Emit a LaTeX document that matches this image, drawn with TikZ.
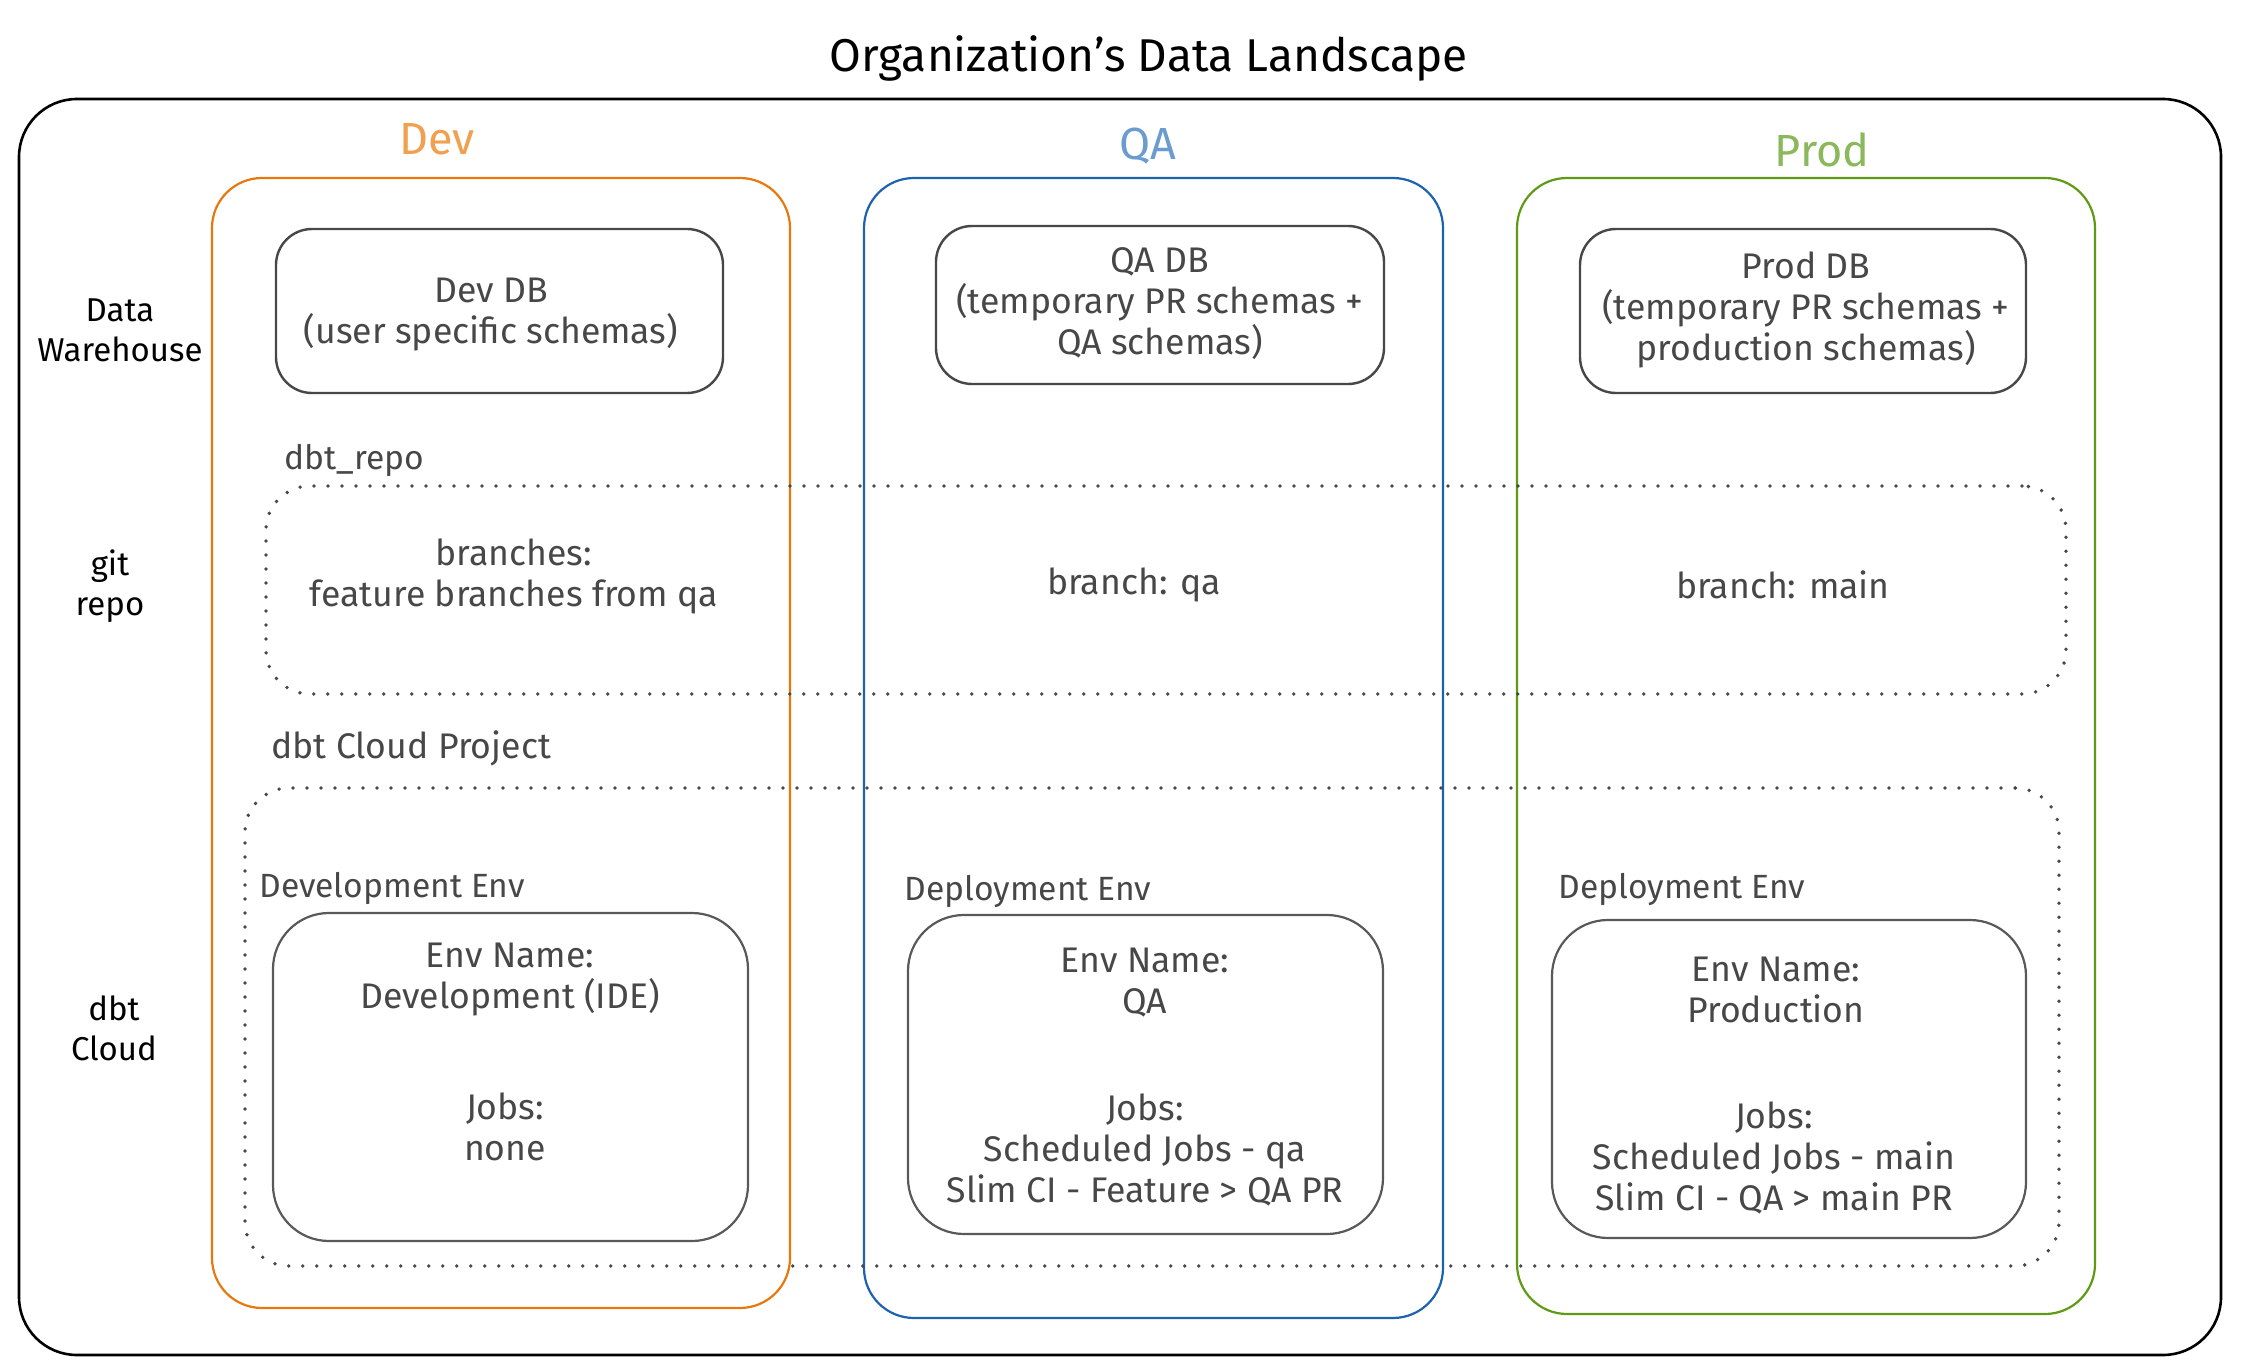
\documentclass[tikz,border=0pt]{standalone}
\usepackage{fontspec}
\setmainfont{Fira Sans}
\usetikzlibrary{fit}
\definecolor{txtgray}{HTML}{474747}
\definecolor{devline}{HTML}{E8780C}
\definecolor{devlabel}{HTML}{F0A04E}
\definecolor{qaline}{HTML}{1C62AE}
\definecolor{qalabel}{HTML}{6A9CD0}
\definecolor{prodline}{HTML}{5F9A14}
\definecolor{prodlabel}{HTML}{8AB85A}
\tikzset{
  outerbox/.style={draw=black, line width=1.3pt, rounded corners=29pt, inner sep=0pt},
  colbox/.style={line width=1.1pt, rounded corners=25pt, inner sep=0pt},
  dbbox/.style={draw=txtgray, line width=1.2pt, rounded corners=18pt, inner sep=0pt},
  envbox/.style={draw=txtgray!90, line width=1.1pt, rounded corners=28pt, inner sep=0pt},
  dotbox/.style={draw=txtgray, line width=1.9pt, line cap=round, dash pattern=on 0pt off 7pt, rounded corners=22pt, inner sep=0pt},
  body/.style={text=txtgray, font=\fontsize{17.8}{20.5}\selectfont, align=center, inner sep=0pt},
  side/.style={text=black, font=\fontsize{16.5}{20}\selectfont, align=center, inner sep=0pt},
  lefttxt/.style={text=txtgray, font=\fontsize{16.8}{20.5}\selectfont, anchor=west, inner sep=0pt},
  collabel/.style={font=\fontsize{22.5}{26}\selectfont, inner sep=0pt},
}
\begin{document}
\begin{tikzpicture}[x=0.5pt,y=-0.5pt]
\useasboundingbox (0,0) rectangle (2256,1364);
% title
\node[text=black, font=\fontsize{23}{27}\selectfont, inner sep=0pt] (title) at (1149,58) {Organization's Data Landscape};
% outer box
\node[outerbox, fit={(19,99) (2221,1355)}] (outer) {};
% column boxes
\node[colbox, draw=devline, fit={(212,178) (790,1308)}] (devcol) {};
\node[colbox, draw=qaline, fit={(864,178) (1443,1318)}] (qacol) {};
\node[colbox, draw=prodline, fit={(1517,178) (2095,1314)}] (prodcol) {};
\node[collabel, text=devlabel] (devlab) at (437,139) {Dev};
\node[collabel, text=qalabel] (qalab) at (1148,146) {QA};
\node[collabel, text=prodlabel] (prodlab) at (1822,150) {Prod};
% row labels
\node[side] (dwlab) at (120,330) {Data\\Warehouse};
\node[side] (gitlab) at (110,586) {git\\repo};
\node[side] (cloudlab) at (114,1028) {dbt\\Cloud};
% DB boxes
\node[dbbox, fit={(276,229) (723,393)}] (devdb) {};
\node[body] (devdbt) at (491,315) {Dev DB\\(user specific schemas)};
\node[dbbox, fit={(936,226) (1384,384)}] (qadb) {};
\node[body] (qadbt) at (1160,304) {QA DB\\(temporary PR schemas +\\QA schemas)};
\node[dbbox, fit={(1580,229) (2026,393)}] (proddb) {};
\node[body] (proddbt) at (1806,310) {Prod DB\\(temporary PR schemas +\\production schemas)};
% git repo
\node[lefttxt] (repolab) at (284,460) {dbt\_repo};
\node[dotbox, fit={(266,486) (2066,694)}] (gitbox) {};
\node[body] (devbr) at (514,576) {branches:\\feature branches from qa};
\node[body] (qabr) at (1134,585) {branch: qa};
\node[body] (prodbr) at (1783,585) {branch: main};
% dbt cloud
\node[lefttxt, font=\fontsize{17.8}{20.5}\selectfont] (projlab) at (271,748) {dbt Cloud Project};
\node[dotbox, fit={(245,788) (2059,1266)}] (cloudbox) {};
\node[lefttxt] (devenvlab) at (259,888) {Development Env};
\node[lefttxt] (qaenvlab) at (904,891) {Deployment Env};
\node[lefttxt] (prodenvlab) at (1558,889) {Deployment Env};
\node[envbox, fit={(273,913) (748,1241)}] (devenv) {};
\node[envbox, fit={(908,915) (1383,1234)}] (qaenv) {};
\node[envbox, fit={(1552,920) (2026,1238)}] (prodenv) {};
\node[body] (devenvname) at (510,980) {Env Name:\\Development (IDE)};
\node[body] (devjobs) at (505,1127) {Jobs:\\none};
\node[body] (qaenvname) at (1145,983) {Env Name:\\QA};
\node[body] (qajobs) at (1145,1150) {Jobs:\\Scheduled Jobs - qa\\Slim CI - Feature > QA PR};
\node[body] (prodenvname) at (1776,990) {Env Name:\\Production};
\node[body] (prodjobs) at (1774,1158) {Jobs:\\Scheduled Jobs - main\\Slim CI - QA > main PR};
\end{tikzpicture}
\end{document}
